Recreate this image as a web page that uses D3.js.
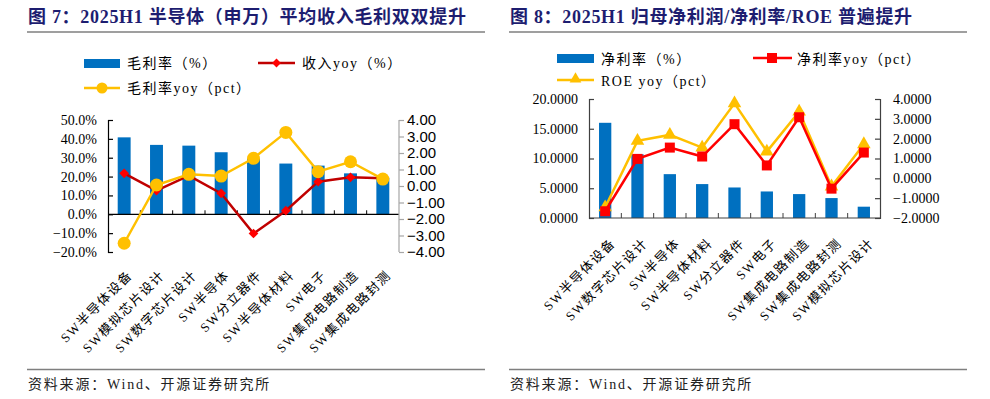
<!DOCTYPE html>
<html lang="zh">
<meta charset="utf-8">
<script src="https://d3js.org/d3.v7.min.js"></script>
<style>
  body { margin: 0; background: #fff; }
  text { font-family: "Liberation Serif", "Noto Sans CJK SC", serif; }
</style>
<div id="chart"></div>
<script>

// ---- data: left chart (图 7) ----
var catsA = ["SW半导体设备", "SW模拟芯片设计", "SW数字芯片设计", "SW半导体", "SW分立器件",
             "SW半导体材料", "SW电子", "SW集成电路制造", "SW集成电路封测"];
var grossMargin = [40.8, 36.8, 36.4, 32.9, 29.5, 26.9, 25.8, 21.7, 19.3];      // %
var revenueYoy = [21.7, 12.6, 20.5, 11.1, -10.2, 1.9, 17.3, 19.6, 19.1];       // %
var grossMarginYoy = [-3.47, 0.06, 0.71, 0.6, 1.68, 3.25, 0.87, 1.47, 0.42];   // pct
var leftTicksA = [-20, -10, 0, 10, 20, 30, 40, 50];
var rightTicksA = [-4, -3, -2, -1, 0, 1, 2, 3, 4];

// ---- data: right chart (图 8) ----
var catsB = ["SW半导体设备", "SW数字芯片设计", "SW半导体", "SW半导体材料", "SW分立器件",
             "SW电子", "SW集成电路制造", "SW集成电路封测", "SW模拟芯片设计"];
var netMargin = [16.0, 10.7, 7.37, 5.7, 5.13, 4.46, 4.02, 3.35, 1.9];          // %
var netMarginYoy = [-1.66, 0.98, 1.55, 1.1, 2.73, 0.65, 3.08, -0.52, 1.3];    // pct
var roeYoy = [-1.46, 1.89, 2.19, 1.55, 3.78, 1.35, 3.36, -0.41, 1.72];        // pct
var leftTicksB = [0, 5, 10, 15, 20];
var rightTicksB = [-2, -1, 0, 1, 2, 3, 4];

var blue = "#0070C0", yellow = "#FFC000", navy = "#1d1d70";

var svg = d3.select("#chart").append("svg")
  .attr("width", 990).attr("height", 399);
svg.append("rect").attr("width", 990).attr("height", 399).attr("fill", "#fff");

// titles, rules and source lines
function frame(x, lineX1, title) {
  svg.append("text").attr("x", x).attr("y", 23)
    .style("font-size", "18px").style("font-weight", "bold").style("letter-spacing", "0.7px")
    .attr("fill", navy)
    .text(title);
  svg.append("line").attr("x1", x - 1).attr("x2", lineX1).attr("y1", 32).attr("y2", 32)
    .attr("stroke", "#7f7f7f").attr("stroke-width", 1.5);
  svg.append("line").attr("x1", x - 1).attr("x2", lineX1).attr("y1", 369.5).attr("y2", 369.5)
    .attr("stroke", "#7f7f7f").attr("stroke-width", 1.5);
  svg.append("text").attr("x", x).attr("y", 389)
    .style("font-size", "14px").style("letter-spacing", "1.8px").attr("fill", "#222")
    .text("资料来源：Wind、开源证券研究所");
}
frame(28, 485, "图 7：2025H1 半导体（申万）平均收入毛利双双提升");
frame(510, 967, "图 8：2025H1 归母净利润/净利率/ROE 普遍提升");

function xLabels(g, x, bottom, dx, dy) {
  g.selectAll(".xl").data(x.domain()).enter().append("text")
    .attr("class", "xl")
    .attr("text-anchor", "end")
    .attr("transform", function(d) {
      return "translate(" + (x(d) + x.bandwidth() / 2 + dx) + "," + (bottom + dy) + ") rotate(-45)";
    })
    .style("font-size", "13px").style("letter-spacing", "1.5px").attr("fill", "#000")
    .text(function(d) { return d; });
}

function boundaryTicks(g, x, y0, len, color) {
  var n = x.domain().length;
  g.selectAll(".bt").data(d3.range(1, n)).enter().append("line")
    .attr("x1", function(i) { return x.range()[0] + i * x.step(); })
    .attr("x2", function(i) { return x.range()[0] + i * x.step(); })
    .attr("y1", y0).attr("y2", y0 - len)
    .attr("stroke", color).attr("stroke-width", 1);
}

// ================= Chart A =================
(function() {
  var x0 = 108, x1 = 399, top = 120, bottom = 252;
  var g = svg.append("g");
  var x = d3.scaleBand().domain(catsA).range([x0, x1]).paddingInner(0.6).paddingOuter(0.3);
  var yL = d3.scaleLinear().domain([-20, 50]).range([bottom, top]);
  var yR = d3.scaleLinear().domain([-4, 4]).range([bottom, top]);
  var cx = function(i) { return x(catsA[i]) + x.bandwidth() / 2; };

  // bars
  g.selectAll(".bar").data(grossMargin).enter().append("rect")
    .attr("x", function(d, i) { return x(catsA[i]); })
    .attr("y", function(d) { return yL(d); })
    .attr("width", x.bandwidth())
    .attr("height", function(d) { return yL(0) - yL(d); })
    .attr("fill", blue);

  // zero axis
  g.append("line").attr("x1", x0).attr("x2", x1).attr("y1", yL(0)).attr("y2", yL(0))
    .attr("stroke", "#000").attr("stroke-width", 1.2);
  boundaryTicks(g, x, yL(0), 4, "#000");

  // left axis
  var ax = g.append("g").attr("transform", "translate(" + x0 + ",0)")
    .call(d3.axisLeft(yL).tickValues(leftTicksA).tickSize(-5).tickPadding(11)
      .tickFormat(function(d) { return d3.format(".1f")(d) + "%"; }));
  ax.selectAll("path,line").attr("stroke", "#000").attr("stroke-width", 1.2);
  ax.selectAll("text").style("font-size", "14px").style("font-family", "Liberation Serif").attr("fill", "#000");

  // right axis
  var ar = g.append("g").attr("transform", "translate(" + x1 + ",0)")
    .call(d3.axisRight(yR).tickValues(rightTicksA).tickSize(5).tickPadding(3).tickFormat(d3.format(".2f")));
  ar.selectAll("path,line").attr("stroke", "#a6a6a6").attr("stroke-width", 1.2);
  ar.select(".domain").attr("d", "M0," + top + "V" + bottom);
  ar.selectAll("text").style("font-size", "15px").style("font-family", "Liberation Sans").attr("fill", "#000");

  // revenue yoy (left axis, %)
  var lineR = d3.line().x(function(d, i) { return cx(i); }).y(function(d) { return yL(d); });
  g.append("path").datum(revenueYoy).attr("d", lineR)
    .attr("fill", "none").attr("stroke", "#C00000").attr("stroke-width", 2.5);
  g.selectAll(".dm").data(revenueYoy).enter().append("path")
    .attr("d", d3.symbol(d3.symbolDiamond2, 60))
    .attr("transform", function(d, i) { return "translate(" + cx(i) + "," + yL(d) + ")"; })
    .attr("fill", "#FF0000");

  // gross margin yoy (right axis, pct)
  var lineY = d3.line().x(function(d, i) { return cx(i); }).y(function(d) { return yR(d); });
  g.append("path").datum(grossMarginYoy).attr("d", lineY)
    .attr("fill", "none").attr("stroke", yellow).attr("stroke-width", 2.5);
  g.selectAll(".cc").data(grossMarginYoy).enter().append("circle")
    .attr("cx", function(d, i) { return cx(i); })
    .attr("cy", function(d) { return yR(d); })
    .attr("r", 6.5).attr("fill", yellow);

  xLabels(g, x, bottom, 9, 24);

  // legend
  var lg = svg.append("g").style("font-size", "14px").style("letter-spacing", "1.5px");
  lg.append("rect").attr("x", 84).attr("y", 59).attr("width", 36).attr("height", 9).attr("fill", blue);
  lg.append("text").attr("x", 127).attr("y", 68).text("毛利率（%）");
  lg.append("line").attr("x1", 258).attr("x2", 295).attr("y1", 63).attr("y2", 63)
    .attr("stroke", "#C00000").attr("stroke-width", 2.5);
  lg.append("path").attr("d", d3.symbol(d3.symbolDiamond2, 50)).attr("transform", "translate(276.5,63)").attr("fill", "#FF0000");
  lg.append("text").attr("x", 302).attr("y", 68).text("收入yoy（%）");
  lg.append("line").attr("x1", 84).attr("x2", 120).attr("y1", 88).attr("y2", 88)
    .attr("stroke", yellow).attr("stroke-width", 2.5);
  lg.append("circle").attr("cx", 102).attr("cy", 88).attr("r", 5.5).attr("fill", yellow);
  lg.append("text").attr("x", 127).attr("y", 93).text("毛利率yoy（pct）");
})();

// ================= Chart B =================
(function() {
  var x0 = 589, x1 = 880, top = 99, bottom = 218;
  var g = svg.append("g");
  var x = d3.scaleBand().domain(catsB).range([x0, x1]).paddingInner(0.62).paddingOuter(0.31);
  var yL = d3.scaleLinear().domain([0, 20]).range([bottom, top]);
  var yR = d3.scaleLinear().domain([-2, 4]).range([bottom, top]);
  var cx = function(i) { return x(catsB[i]) + x.bandwidth() / 2; };

  g.selectAll(".bar").data(netMargin).enter().append("rect")
    .attr("x", function(d, i) { return x(catsB[i]); })
    .attr("y", function(d) { return yL(d); })
    .attr("width", x.bandwidth())
    .attr("height", function(d) { return yL(0) - yL(d); })
    .attr("fill", blue);

  g.append("line").attr("x1", x0).attr("x2", x1).attr("y1", bottom).attr("y2", bottom)
    .attr("stroke", "#404040").attr("stroke-width", 1.2);
  boundaryTicks(g, x, bottom, 5, "#404040");

  var ax = g.append("g").attr("transform", "translate(" + x0 + ",0)")
    .call(d3.axisLeft(yL).tickValues(leftTicksB).tickSize(-5).tickPadding(11).tickFormat(d3.format(".4f")));
  ax.selectAll("path,line").attr("stroke", "#404040").attr("stroke-width", 1.2);
  ax.selectAll("text").style("font-size", "14px").attr("fill", "#000");

  var ar = g.append("g").attr("transform", "translate(" + x1 + ",0)")
    .call(d3.axisRight(yR).tickValues(rightTicksB).tickSize(-5).tickPadding(13).tickFormat(d3.format(".4f")));
  ar.selectAll("path,line").attr("stroke", "#404040").attr("stroke-width", 1.2);
  ar.selectAll("text").style("font-size", "14px").attr("fill", "#000");

  var line = d3.line().x(function(d, i) { return cx(i); }).y(function(d) { return yR(d); });

  // ROE yoy
  g.append("path").datum(roeYoy).attr("d", line)
    .attr("fill", "none").attr("stroke", yellow).attr("stroke-width", 2.5);
  g.selectAll(".tri").data(roeYoy).enter().append("path")
    .attr("d", d3.symbol(d3.symbolTriangle, 80))
    .attr("transform", function(d, i) { return "translate(" + cx(i) + "," + yR(d) + ")"; })
    .attr("fill", yellow);

  // net margin yoy
  g.append("path").datum(netMarginYoy).attr("d", line)
    .attr("fill", "none").attr("stroke", "#FF0000").attr("stroke-width", 2.5);
  g.selectAll(".sq").data(netMarginYoy).enter().append("rect")
    .attr("x", function(d, i) { return cx(i) - 5; })
    .attr("y", function(d) { return yR(d) - 5; })
    .attr("width", 10).attr("height", 10)
    .attr("fill", "#FF0000");

  xLabels(g, x, bottom, 11, 26);

  var lg = svg.append("g").style("font-size", "14px").style("letter-spacing", "1.5px");
  lg.append("rect").attr("x", 557).attr("y", 54).attr("width", 37).attr("height", 9).attr("fill", blue);
  lg.append("text").attr("x", 601).attr("y", 64).text("净利率（%）");
  lg.append("line").attr("x1", 753).attr("x2", 792).attr("y1", 58).attr("y2", 58)
    .attr("stroke", "#FF0000").attr("stroke-width", 2.5);
  lg.append("rect").attr("x", 767).attr("y", 53).attr("width", 10).attr("height", 10).attr("fill", "#FF0000");
  lg.append("text").attr("x", 797).attr("y", 64).text("净利率yoy（pct）");
  lg.append("line").attr("x1", 557).attr("x2", 594).attr("y1", 80).attr("y2", 80)
    .attr("stroke", yellow).attr("stroke-width", 2.5);
  lg.append("path").attr("d", d3.symbol(d3.symbolTriangle, 60)).attr("transform", "translate(575.5,79)").attr("fill", yellow);
  lg.append("text").attr("x", 601).attr("y", 86).text("ROE yoy（pct）");
})();

</script>
</html>
